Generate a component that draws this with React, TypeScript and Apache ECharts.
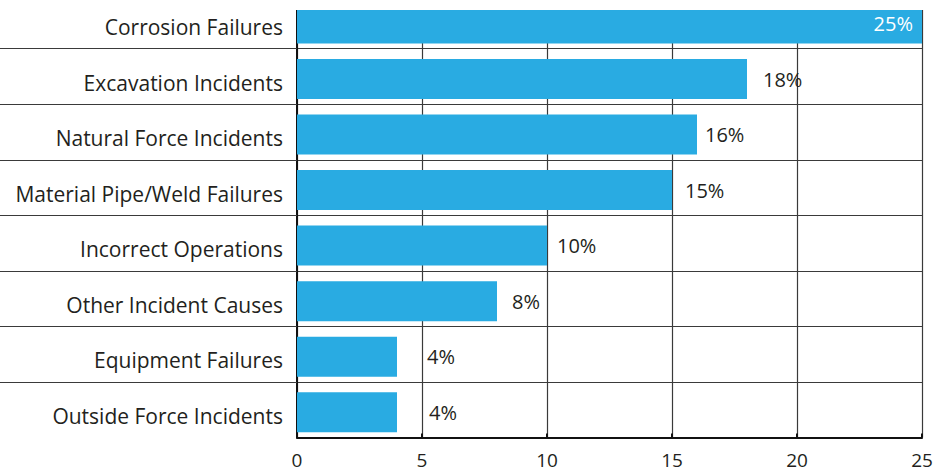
import React, { useEffect, useRef } from "react";
import * as echarts from "echarts";

// Display order, top to bottom
const categories = [
  "Corrosion Failures",
  "Excavation Incidents",
  "Natural Force Incidents",
  "Material Pipe/Weld Failures",
  "Incorrect Operations",
  "Other Incident Causes",
  "Equipment Failures",
  "Outside Force Incidents",
];
const values = [25, 18, 16, 15, 10, 8, 4, 4];
const xTicks = { min: 0, max: 25, interval: 5 };

// label styling (gap from bar end to the value label), same order as above
const labelGaps = [9, 16, 8, 13, 10, 15, 30, 32];

const FONT = "Open Sans";
const TEXT = "#231f20";
const BAR = "#29abe2";
const LINE = "#3a3a3a";

export default function App() {
  const ref = useRef<HTMLDivElement>(null);
  useEffect(() => {
    if (!ref.current) return;
    const chart = echarts.init(ref.current, null, { renderer: "svg" });
    const cats = [...categories].reverse();
    const vals = [...values].reverse();
    const gaps = [...labelGaps].reverse();
    const n = cats.length;
    chart.setOption({
      animation: false,
      grid: { left: 297, right: 15, top: 0.2, bottom: 35.5, containLabel: false },
      xAxis: {
        type: "value",
        min: xTicks.min,
        max: xTicks.max,
        interval: xTicks.interval,
        axisLine: { show: true, lineStyle: { color: "#111", width: 2 } },
        axisTick: { show: true, inside: true, length: 4, lineStyle: { color: "#111", width: 2 } },
        splitLine: { show: true, lineStyle: { color: LINE, width: 1.2 } },
        axisLabel: { color: TEXT, fontSize: 19, fontFamily: FONT, margin: 12.5 },
      },
      yAxis: {
        type: "category",
        data: cats,
        axisLine: { show: true, lineStyle: { color: "#111", width: 2 } },
        axisTick: {
          show: true,
          length: 297,
          interval: (i: number) => i !== 0,
          lineStyle: { color: LINE, width: 1.2 },
        },
        splitLine: { show: true, lineStyle: { color: LINE, width: 1.2 } },
        axisLabel: {
          color: TEXT,
          fontSize: 21,
          fontFamily: FONT,
          margin: 14,
          verticalAlign: "top",
          lineHeight: 12,
        },
      },
      series: [
        {
          type: "bar",
          data: cats.map(() => null),
          barWidth: 5,
          barGap: "0%",
          silent: true,
        },
        {
          type: "bar",
          barWidth: 40,
          barGap: "0%",
          itemStyle: { color: BAR },
          data: vals.map((v, i) => {
            const top = i === n - 1;
            return {
              value: v,
              label: {
                show: true,
                position: top ? "insideRight" : "right",
                distance: gaps[i],
                color: top ? "#ffffff" : TEXT,
                fontSize: 20,
                fontFamily: FONT,
                formatter: "{c}%",
              },
            };
          }),
        },
      ],
    });
    return () => chart.dispose();
  }, []);
  return (
    <div
      style={{
        position: "fixed",
        left: 0,
        top: 10,
        width: 937,
        height: 463,
        overflow: "hidden",
        background: "#fff",
      }}
    >
      <div ref={ref} style={{ position: "absolute", left: 0, top: -17, width: 937, height: 480 }} />
    </div>
  );
}
